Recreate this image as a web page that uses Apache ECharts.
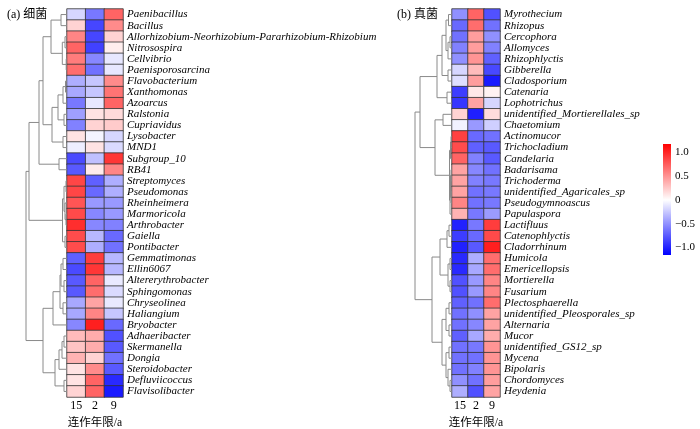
<!DOCTYPE html>
<html><head><meta charset="utf-8">
<script src="https://cdn.jsdelivr.net/npm/echarts@6/dist/echarts.min.js"></script>
<style>html,body{margin:0;padding:0;background:#fff}#c{width:700px;height:429px}</style>
</head><body><div id="c"></div>
<script>
const years = ['15', '2', '9'];
const bacteria = ['Paenibacillus','Bacillus','Allorhizobium-Neorhizobium-Pararhizobium-Rhizobium','Nitrosospira','Cellvibrio','Paenisporosarcina','Flavobacterium','Xanthomonas','Azoarcus','Ralstonia','Cupriavidus','Lysobacter','MND1','Subgroup_10','RB41','Streptomyces','Pseudomonas','Rheinheimera','Marmoricola','Arthrobacter','Gaiella','Pontibacter','Gemmatimonas','Ellin6067','Altererythrobacter','Sphingomonas','Chryseolinea','Haliangium','Bryobacter','Adhaeribacter','Skermanella','Dongia','Steroidobacter','Defluviicoccus','Flavisolibacter'];
const bacteriaValues = [
 [-0.18,-0.61,0.72],[0.21,-0.84,0.54],[0.57,-0.84,0.21],[0.72,-0.86,0.09],[0.61,-0.54,-0.10],
 [0.68,-0.64,-0.10],[-0.36,-0.25,0.54],[-0.39,-0.25,0.65],[-0.61,-0.10,0.72],[-0.43,0.14,0.18],
 [-0.57,0.21,0.25],[0.14,-0.04,-0.18],[-0.07,0.14,-0.16],[-0.82,-0.28,0.93],[-0.75,0.10,0.57],
 [0.86,-0.72,-0.36],[0.86,-0.68,-0.36],[0.79,-0.46,-0.46],[0.84,-0.54,-0.46],[0.97,-0.54,-0.57],
 [0.83,-0.32,-0.68],[0.83,-0.36,-0.64],[-0.72,0.90,-0.32],[-0.82,0.93,-0.32],[-0.75,0.72,-0.09],
 [-0.75,0.68,-0.16],[-0.39,0.43,-0.09],[-0.39,0.57,-0.25],[-0.54,1.04,-0.68],[0.32,0.39,-0.79],
 [0.28,0.39,-0.75],[0.36,0.21,-0.64],[0.14,0.54,-0.75],[0.14,0.72,-0.97],[0.21,0.72,-1.04]
];
const fungi = ['Myrothecium','Rhizopus','Cercophora','Allomyces','Rhizophlyctis','Gibberella','Cladosporium','Catenaria','Lophotrichus','unidentified_Mortierellales_sp','Chaetomium','Actinomucor','Trichocladium','Candelaria','Badarisama','Trichoderma','unidentified_Agaricales_sp','Pseudogymnoascus','Papulaspora','Lactifluus','Catenophlyctis','Cladorrhinum','Humicola','Emericellopsis','Mortierella','Fusarium','Plectosphaerella','unidentified_Pleosporales_sp','Alternaria','Mucor','unidentified_GS12_sp','Mycena','Bipolaris','Chordomyces','Heydenia'];
const fungiValues = [
 [-0.50,0.72,-0.79],[-0.68,0.68,-0.64],[-0.64,0.46,-0.50],[-0.57,0.46,-0.57],[-0.50,0.50,-0.72],
 [-0.18,0.32,-0.83],[-0.14,0.46,-1.04],[-0.88,0.12,0.07],[-0.91,0.43,-0.18],[0.21,-1.02,0.17],
 [-0.05,-0.46,-0.21],[0.88,-0.68,-0.64],[0.83,-0.72,-0.75],[0.72,-0.57,-0.75],[0.43,-0.54,-0.64],
 [0.43,-0.57,-0.61],[0.43,-0.64,-0.61],[0.57,-0.64,-0.61],[0.36,-0.61,-0.45],[-1.01,-0.61,0.90],
 [-0.88,-0.68,0.84],[-1.01,-0.75,1.04],[-0.97,-0.36,0.68],[-0.97,-0.39,0.68],[-0.79,-0.46,0.57],
 [-0.79,-0.46,0.57],[-0.72,-0.64,0.68],[-0.64,-0.50,0.43],[-0.64,-0.54,0.43],[-0.72,-0.39,0.39],
 [-0.64,-0.61,0.50],[-0.64,-0.64,0.50],[-0.64,-0.57,0.50],[-0.50,-0.64,0.46],[-0.36,-0.79,0.43]
];
// trees: [height, childA, childB]; leaves are row indices
const bacteriaTree = [41,
  [38,
    [28,
      [24,
        [16, [6,0,1], [4.7,[2,2,3],[0.8,4,5]]],
        [15, [9,[4,[1.5,6,7],8],[3,9,10]], [4,11,12]]
      ],
      [8,13,14]
    ],
    [4.5, [3,[1,15,16],[2,17,[1,18,19]]], [2,20,21]]
  ],
  [24,
    [14, [7,[6,[4,22,23],[3,24,25]],[4,26,27]], 28],
    [12, [8,[5,[3,29,30],31],32], [3,33,34]]
  ]
];
const fungiTree = [37,
  [32,
    [15, [10, [6,[3.5,0,1],[4,[2,2,3],4]], [4,5,6]], [5,7,8]],
    [17, [9,9,10], [2.5,[1.5,[1,11,12],13],[2,[1.5,[1,14,15],[1,16,17]],18]]]
  ],
  [20,
    [12, [5,[3,19,20],21], [4,[2,22,23],[2,24,25]]],
    [10, [6,[3,26,27],[3,28,29]], [6,[3,30,31],[4,32,[2,33,34]]]]
  ]
];
const colorbarTicks = [-1.0, -0.5, 0, 0.5, 1.0];
const scaleMin = -1.16, scaleMax = 1.18;

function heatData(vals){ const d=[]; vals.forEach((r,i)=>r.forEach((v,j)=>d.push([j,i,v]))); return d; }
function dendro(tree){
  const segs=[];
  function walk(n){
    if(typeof n==='number') return {y:n,h:0};
    const a=walk(n[1]), b=walk(n[2]);
    segs.push({coords:[[a.h,a.y],[n[0],a.y],[n[0],b.y],[b.h,b.y]]});
    return {y:(a.y+b.y)/2,h:n[0]};
  }
  walk(tree); return segs;
}
const serif = 'Liberation Serif, Noto Sans CJK SC, serif';
const chart = echarts.init(document.getElementById('c'), null, {renderer:'canvas'});
const hmTop = 9, hmH = 388;
const grids = [
  {left:67, top:hmTop, width:56, height:hmH, outerBoundsMode:'none', containLabel:false},
  {left:452, top:hmTop, width:48, height:hmH, outerBoundsMode:'none', containLabel:false},
  {left:25, top:hmTop, width:42, height:hmH, outerBoundsMode:'none', containLabel:false},
  {left:415, top:hmTop, width:37, height:hmH, outerBoundsMode:'none', containLabel:false},
  {left:663, top:144, width:8, height:111, outerBoundsMode:'none', containLabel:false}
];
function catX(gi){return {type:'category', gridIndex:gi, data:years, axisTick:{show:false}, axisLine:{show:false},
  axisLabel:{fontFamily:serif, fontSize:12, color:'#000', margin:3},
  name:'连作年限/a', nameLocation:'middle', nameGap:17, nameTextStyle:{fontFamily:serif, fontSize:11.5, color:'#000'}};}
function catY(gi,names){return {type:'category', gridIndex:gi, data:names, inverse:true, position:'right',
  axisTick:{show:false}, axisLine:{show:false},
  axisLabel:{fontFamily:serif, fontStyle:'italic', fontSize:11, color:'#000', margin:4, interval:0}};}
function dX(gi,max){return {type:'value', gridIndex:gi, min:0, max:max, inverse:true, show:false};}
function dY(gi){return {type:'value', gridIndex:gi, min:-0.5, max:34.5, inverse:true, show:false};}
const option = {
  animation:false,
  title:[
    {text:'(a) 细菌', left:2, top:4, textStyle:{fontFamily:serif, fontSize:12, fontWeight:'normal', color:'#000'}},
    {text:'(b) 真菌', left:392, top:4, textStyle:{fontFamily:serif, fontSize:12, fontWeight:'normal', color:'#000'}}
  ],
  grid:grids,
  xAxis:[catX(0), catX(1), dX(2,42), dX(3,37),
    {type:'category', gridIndex:4, data:[''], show:false}],
  yAxis:[catY(0,bacteria), catY(1,fungi), dY(2), dY(3),
    {type:'value', gridIndex:4, min:scaleMin, max:scaleMax, position:'right',
     axisLine:{show:false}, axisTick:{show:false}, splitLine:{show:false},
     axisLabel:{customValues:colorbarTicks, fontFamily:serif, fontSize:11, color:'#000', margin:4,
       formatter:v=>v===0?'0':(v<0?'\u2212'+Math.abs(v).toFixed(1):v.toFixed(1))}}],
  visualMap:{type:'continuous', show:false, min:scaleMin, max:scaleMax, seriesIndex:[0,1],
    inRange:{color:['#0000ff','#ffffff','#ff0000']}},
  series:[
    {type:'heatmap', xAxisIndex:0, yAxisIndex:0, data:heatData(bacteriaValues),
      itemStyle:{borderColor:'#333', borderWidth:0.8}},
    {type:'heatmap', xAxisIndex:1, yAxisIndex:1, data:heatData(fungiValues),
      itemStyle:{borderColor:'#333', borderWidth:0.8}},
    {type:'lines', coordinateSystem:'cartesian2d', xAxisIndex:2, yAxisIndex:2, polyline:true,
      lineStyle:{color:'#8a8a8a', width:1, opacity:1}, data:dendro(bacteriaTree), silent:true},
    {type:'lines', coordinateSystem:'cartesian2d', xAxisIndex:3, yAxisIndex:3, polyline:true,
      lineStyle:{color:'#8a8a8a', width:1, opacity:1}, data:dendro(fungiTree), silent:true},
    {type:'custom', xAxisIndex:4, yAxisIndex:4, data:[[0, scaleMax, scaleMin]], encode:{x:0, y:[1,2]},
      renderItem:(params, api)=>{
        const a=api.coord([0, api.value(1)]), b=api.coord([0, api.value(2)]);
        const w=api.size([1,0])[0];
        const zeroOff = scaleMax/(scaleMax-scaleMin);
        return {type:'rect', shape:{x:a[0]-w/2, y:a[1], width:w, height:b[1]-a[1]},
          style:{fill:new echarts.graphic.LinearGradient(0,0,0,1,[
            {offset:0,color:'#ff0000'},{offset:zeroOff,color:'#ffffff'},{offset:1,color:'#0000ff'}])}};
      }}
  ]
};
chart.setOption(option);
</script></body></html>
